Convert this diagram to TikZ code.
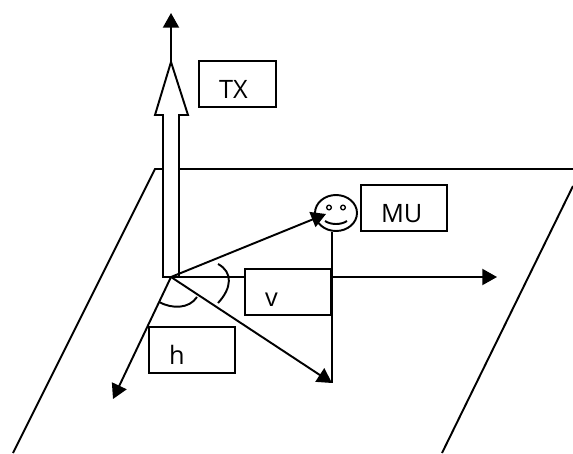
\documentclass[tikz,border=0pt]{standalone}
\usepackage{fontspec}
\setmainfont{Open Sans}
\usepackage{tikz}
\usetikzlibrary{arrows.meta, positioning, shapes.geometric}
\tikzset{
  ln/.style={line width=1.45pt, draw=black},
  ray/.style={ln, -{Triangle[length=11pt, width=12pt]}},
  lblbox/.style={rectangle, ln, fill=white, anchor=north west, align=left,
                 font=\fontsize{19}{19}\selectfont, inner xsep=15pt, inner ysep=0pt,
                 outer sep=0pt, text width=34.5pt, text height=27.75pt, text depth=6.75pt},
  mast/.style={ln, fill=white, line join=miter},
  eye/.style={circle, ln, line width=1pt, inner sep=0pt, minimum size=3.5pt},
}
\begin{document}
\begin{tikzpicture}[x=0.75pt, y=-0.75pt]
  \useasboundingbox (0,0) rectangle (573,453);
  % ground plane
  \coordinate (pa) at (13,453);
  \coordinate (pb) at (155,169);
  \coordinate (pc) at (573,169);
  \coordinate (pd) at (573,186);
  \coordinate (pe) at (442,453);
  \draw[ln] (pa) -- (pb) -- (pc);
  \draw[ln] (pd) -- (pe);
  % transmitter mast
  \coordinate (o) at (171,277);
  \coordinate (top) at (171,62);
  \coordinate (sky) at (171,13);
  \draw[mast] (163,277) -- (163,115) -- (155,115) -- (top) -- (188,115) -- (179,115) -- (179,277) -- cycle;
  \draw[ray] (top) -- (sky);
  % axes
  \coordinate (xend) at (497,277);
  \coordinate (yend) at (113,399);
  \coordinate (foot) at (332,383);
  \coordinate (head) at (326,214);
  \draw[ray] (o) -- (xend);
  \draw[ray] (o) -- (yend);
  \draw[ray] (o) -- (foot);
  % angle marks
  \coordinate (ha) at (159,302);
  \coordinate (hb) at (197,297);
  \coordinate (va) at (218,264);
  \coordinate (vb) at (218,303);
  \draw[ln] (ha) .. controls (172,309) and (189,309) .. (hb);
  \draw[ln] (va) .. controls (233,272) and (232,288) .. (vb);
  % labels
  \node[lblbox, text width=27.75pt] (tx) at (199,61) {TX};
  \node[lblbox] (mu) at (361,185) {MU};
  \node[lblbox] (v) at (245,269) {v};
  \node[lblbox] (h) at (149,327) {h};
  % mobile user
  \node[ellipse, ln, minimum width=31.5pt, minimum height=27pt, inner sep=0pt] (face) at (336,213) {};
  \node[eye] (eyel) at (329,207.5) {};
  \node[eye] (eyer) at (343,207.5) {};
  \coordinate (sa) at (325,221);
  \coordinate (sb) at (347,221);
  \draw[ln] (sa) .. controls (331,225) and (341,225) .. (sb);
  \draw[ln] (foot |- face.south) -- (foot);
  \draw[ray] (o) -- (head);
\end{tikzpicture}
\end{document}
